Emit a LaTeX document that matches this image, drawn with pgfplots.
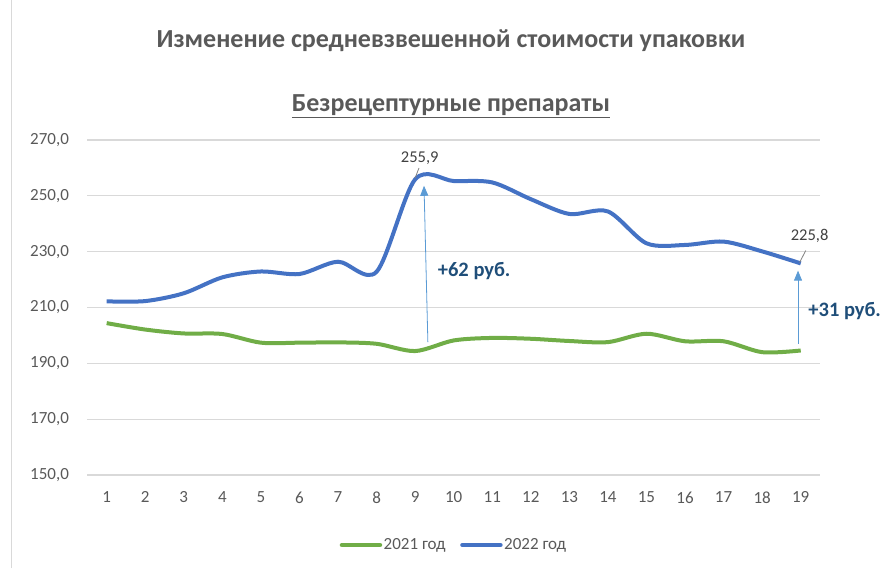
\documentclass[border=0pt]{standalone}
\usepackage{fontspec}
\setmainfont{Carlito}
\usepackage{pgfplots}
\pgfplotsset{compat=1.18}
\usetikzlibrary{arrows.meta}
\definecolor{g21}{HTML}{70AD47}
\definecolor{b22}{HTML}{4472C4}
\definecolor{txt}{HTML}{595959}
\definecolor{gridc}{HTML}{D9D9D9}
\definecolor{ann}{HTML}{1F4E79}
\definecolor{arr}{HTML}{5B9BD5}
\definecolor{lbl}{HTML}{404040}
\begin{document}
\begin{tikzpicture}[x=1pt,y=1pt]
\path[use as bounding box] (0,0) rectangle (884,568);
\draw[gridc] (11,0) -- (11,568);
\node[font=\fontsize{26}{30}\selectfont\bfseries, text=txt] at (451,527) {Изменение средневзвешенной стоимости упаковки};
\node[font=\fontsize{26}{30}\selectfont\bfseries, text=txt] at (451,462) {\underline{Безрецептурные препараты}};
\begin{axis}[
  at={(87.4pt,93pt)}, anchor=south west, scale only axis,
  width=732.6pt, height=335pt,
  xmin=0.5, xmax=19.5, ymin=150, ymax=270,
  ytick={150,170,...,270}, xtick={1,...,19},
  axis line style={draw=none},
  ymajorgrids, grid style={gridc, line width=1.2pt},
  major tick length=0pt,
  tick label style={font=\fontsize{17}{20}\selectfont, text=txt},
  /pgf/number format/assume math mode=true,
  yticklabel style={/pgf/number format/fixed, /pgf/number format/fixed zerofill,
    /pgf/number format/precision=1, /pgf/number format/use comma, xshift=-15pt},
  xticklabel style={yshift=-13pt},
  clip=false,
  legend style={at={(0.5,-0.209)}, anchor=center, draw=none, fill=none,
    font=\fontsize{17}{20}\selectfont, text=txt, legend columns=2,
    nodes={inner xsep=1.5pt},
    /tikz/every even column/.append style={column sep=13pt}},
  legend image code/.code={\draw[#1, line width=4.5pt, line cap=round] (0pt,0pt) -- (38pt,0pt);},
]
\addplot[g21, line width=4pt, smooth, tension=0.5] coordinates {
(1,204.4)(2,202.1)(3,200.7)(4,200.5)(5,197.4)(6,197.4)(7,197.5)(8,197.0)(9,194.4)(10,198.2)
(11,199.1)(12,198.8)(13,198.0)(14,197.6)(15,200.6)(16,197.9)(17,197.9)(18,194.0)(19,194.6)};
\addlegendentry{2021 год}
\addplot[b22, line width=4pt, smooth, tension=0.5] coordinates {
(1,212.2)(2,212.3)(3,215.1)(4,220.8)(5,222.9)(6,222.0)(7,226.4)(8,222.8)(9,255.9)(10,255.3)
(11,254.8)(12,248.8)(13,243.5)(14,244.4)(15,233.0)(16,232.4)(17,233.6)(18,230.1)(19,225.8)};
\addlegendentry{2022 год}
\draw[gray, line width=0.8pt] (axis cs:9.0,256.4) -- (axis cs:9.1,260);
\node[font=\fontsize{16.5}{19}\selectfont, text=lbl] at (axis cs:9.12,263.6) {255,9};
\draw[gray, line width=0.8pt] (axis cs:18.97,226.1) -- (axis cs:19.13,230.4);
\node[font=\fontsize{16.5}{19}\selectfont, text=lbl] at (axis cs:19.23,235.7) {225,8};
\draw[arr, line width=0.8pt, -{Triangle[length=10pt,width=8pt]}] (axis cs:9.33,197.6) -- (axis cs:9.23,253.6);
\draw[arr, line width=0.8pt, -{Triangle[length=10pt,width=8pt]}] (axis cs:18.93,197.0) -- (axis cs:18.93,223.2);
\node[font=\fontsize{20.5}{24}\selectfont\bfseries, text=ann] at (axis cs:10.53,222.9) {+62 руб.};
\node[font=\fontsize{20.5}{24}\selectfont\bfseries, text=ann] at (axis cs:20.14,208.9) {+31 руб.};
\end{axis}
\end{tikzpicture}
\end{document}
